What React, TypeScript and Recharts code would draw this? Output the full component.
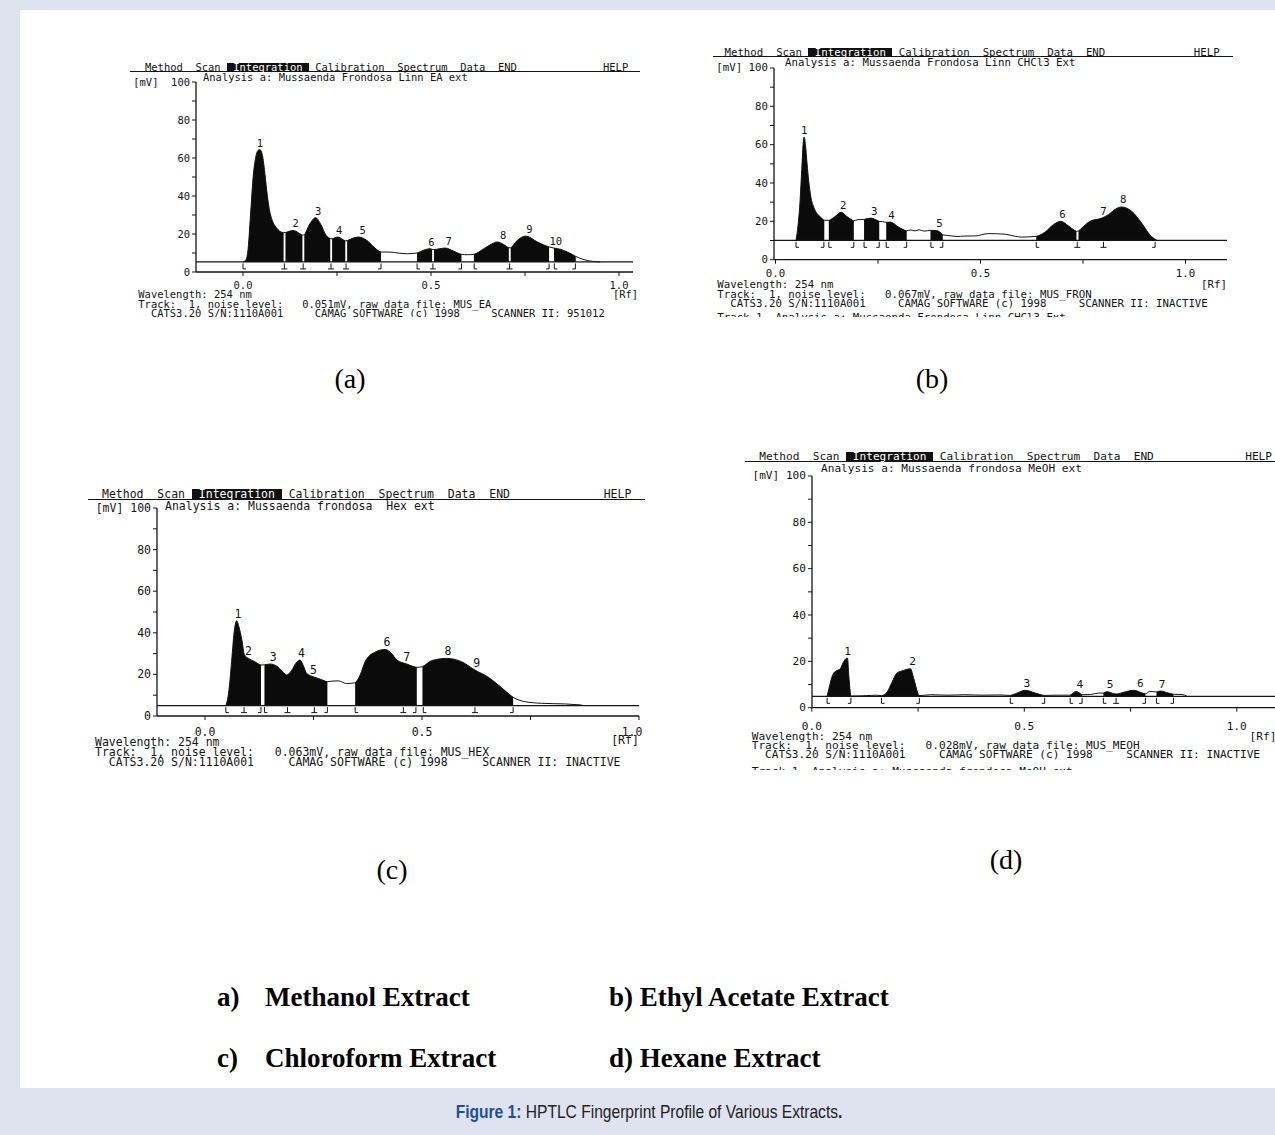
import React from "react"
import {
  Area,
  ComposedChart,
  Line,
  ReferenceLine,
  Scatter,
  XAxis,
  YAxis,
} from "recharts"

const MONO = '"DejaVu Sans Mono", "Liberation Mono", monospace'
const INK = "#141414"

const rfTicks = [0, 0.25, 0.5, 0.75, 1]
const mvTicks = [0, 10, 20, 30, 40, 50, 60, 70, 80, 90, 100]

// (a) EA extract: [Rf, mV]
const traceA = [
  [0.0, 5.3], [0.007, 6.2], [0.013, 11], [0.02, 30], [0.027, 50], [0.034, 60.5],
  [0.04, 64], [0.045, 64.4], [0.051, 62], [0.057, 54], [0.063, 43], [0.07, 33],
  [0.078, 27], [0.088, 23.5], [0.098, 21.4], [0.108, 20.7], [0.113, 20.8],
  [0.133, 21.9], [0.148, 20.6], [0.158, 19.4], [0.163, 19.6], [0.178, 25.4],
  [0.193, 28.6], [0.206, 25.4], [0.221, 19.3], [0.232, 17.6], [0.237, 17.5],
  [0.252, 18.4], [0.272, 16.4], [0.277, 16.5], [0.292, 17.8], [0.307, 18.4],
  [0.329, 16.7], [0.351, 12.6], [0.367, 10.5], [0.391, 10.5], [0.415, 9.9],
  [0.436, 9.6], [0.463, 10.0], [0.48, 11.4], [0.498, 12.3], [0.503, 11.9],
  [0.508, 11.8], [0.538, 12.6], [0.561, 10.9], [0.581, 9.3], [0.598, 9.1],
  [0.614, 9.3], [0.641, 12.3], [0.662, 14.8], [0.676, 15.8], [0.694, 14.4],
  [0.707, 12.8], [0.712, 12.7], [0.73, 16.7], [0.752, 18.9], [0.783, 15.8],
  [0.814, 13.2], [0.827, 12.6], [0.845, 11.9], [0.863, 10.5], [0.885, 8.2],
  [0.907, 6.5], [0.93, 5.6], [0.95, 5.3],
]
const regionsA = [
  [0.0, 0.108], [0.113, 0.158], [0.163, 0.232], [0.237, 0.272], [0.277, 0.367],
  [0.463, 0.503], [0.508, 0.581], [0.614, 0.707], [0.712, 0.814], [0.827, 0.885],
]
const peaksA = [
  [1, 0.045, 64.4], [2, 0.14, 21.9], [3, 0.2, 28.6], [4, 0.256, 18.4], [5, 0.318, 18.2],
  [6, 0.501, 12.3], [7, 0.547, 12.4], [8, 0.692, 15.8], [9, 0.762, 18.9], [10, 0.832, 12.4],
]
const marksA = [
  [0.0, "["], [0.11, "I"], [0.16, "I"], [0.234, "I"], [0.274, "I"], [0.367, "]"],
  [0.463, "["], [0.505, "I"], [0.581, "]"], [0.615, "["], [0.709, "I"], [0.814, "]"],
  [0.828, "["], [0.884, "]"],
]

// (b) CHCl3 extract
const traceB = [
  [0.05, 10.1], [0.055, 18], [0.06, 31], [0.064, 47], [0.068, 62], [0.07, 64],
  [0.073, 60], [0.077, 50], [0.081, 41], [0.086, 33], [0.094, 27], [0.108, 22.6],
  [0.119, 20.6], [0.13, 20.5], [0.145, 22.5], [0.16, 24.7], [0.175, 22.4],
  [0.191, 20.3], [0.201, 20.9], [0.216, 21.0], [0.232, 21.7], [0.253, 20.0],
  [0.262, 19.8], [0.27, 19.5], [0.28, 19.6], [0.3, 17.0], [0.32, 15.1],
  [0.33, 15.5], [0.34, 15.0], [0.35, 15.6], [0.362, 14.9], [0.378, 15.3],
  [0.395, 15.1], [0.408, 13.0], [0.426, 12.5], [0.445, 12.1], [0.458, 12.3],
  [0.487, 12.4], [0.519, 13.6], [0.56, 13.3], [0.585, 12.2], [0.6, 11.8],
  [0.636, 12.2], [0.657, 14.3], [0.678, 18.3], [0.696, 20.0], [0.714, 17.7],
  [0.734, 14.8], [0.739, 15.0], [0.747, 16.5], [0.767, 20.0], [0.796, 21.7],
  [0.812, 23.5], [0.83, 26.5], [0.844, 27.5], [0.869, 25.2], [0.893, 19.1],
  [0.913, 13.0], [0.93, 10.1],
]
const regionsB = [
  [0.05, 0.119], [0.13, 0.191], [0.216, 0.253], [0.27, 0.32], [0.378, 0.408],
  [0.636, 0.734], [0.739, 0.93],
]
const peaksB = [
  [1, 0.07, 64], [2, 0.165, 24.7], [3, 0.241, 21.7], [4, 0.283, 19.6],
  [5, 0.4, 15.1], [6, 0.7, 20.0], [7, 0.8, 21.7], [8, 0.848, 27.5],
]
const marksB = [
  [0.05, "["], [0.118, "]"], [0.13, "["], [0.191, "]"], [0.216, "["], [0.253, "]"],
  [0.27, "["], [0.32, "]"], [0.379, "["], [0.408, "]"], [0.636, "["], [0.736, "I"],
  [0.8, "I"], [0.926, "]"],
]

// (c) Hex extract
const traceC = [
  [0.048, 5.0], [0.052, 8], [0.056, 14], [0.062, 28], [0.067, 40], [0.073, 45.8],
  [0.078, 43], [0.085, 36.5], [0.091, 29.3], [0.1, 27.7], [0.115, 26.1],
  [0.129, 24.5], [0.137, 24.6], [0.15, 25.0], [0.165, 24.0], [0.178, 21.5],
  [0.188, 19.7], [0.2, 22.0], [0.21, 25.5], [0.219, 26.9], [0.227, 24.0],
  [0.234, 20.5], [0.253, 18.6], [0.268, 17.5], [0.282, 16.5], [0.295, 16.8],
  [0.307, 16.9], [0.326, 15.6], [0.346, 16.0], [0.358, 20.0], [0.369, 26.1],
  [0.39, 30.5], [0.415, 32.0], [0.43, 30.0], [0.442, 26.9], [0.465, 25.0],
  [0.488, 23.4], [0.501, 23.7], [0.522, 26.6], [0.557, 27.7], [0.591, 26.1],
  [0.622, 22.1], [0.653, 18.6], [0.676, 14.9], [0.695, 11.5], [0.71, 9.0],
  [0.737, 6.9], [0.776, 6.1], [0.829, 5.8], [0.868, 5.3],
]
const regionsC = [[0.048, 0.129], [0.137, 0.282], [0.346, 0.488], [0.501, 0.71]]
const peaksC = [
  [1, 0.076, 45.8], [2, 0.1, 27.7], [3, 0.157, 24.8], [4, 0.222, 26.9], [5, 0.25, 18.6],
  [6, 0.419, 32.0], [7, 0.465, 25.0], [8, 0.56, 27.7], [9, 0.626, 22.1],
]
const marksC = [
  [0.048, "["], [0.09, "I"], [0.129, "]"], [0.137, "["], [0.19, "I"], [0.252, "I"],
  [0.282, "]"], [0.346, "["], [0.457, "I"], [0.486, "]"], [0.503, "["], [0.622, "I"],
  [0.71, "]"],
]

// (d) MeOH extract
const traceD = [
  [0.036, 4.9], [0.04, 8], [0.044, 11.1], [0.05, 14.5], [0.057, 15.8], [0.067, 16.8],
  [0.074, 19.5], [0.08, 21.1], [0.084, 21.4], [0.087, 14.0], [0.092, 5.0],
  [0.14, 5.3], [0.152, 5.4], [0.164, 5.2], [0.177, 6.7], [0.189, 11.1], [0.2, 14.9],
  [0.216, 16.1], [0.232, 16.8], [0.24, 12.5], [0.252, 5.2], [0.28, 5.6], [0.32, 5.4],
  [0.36, 5.6], [0.4, 5.4], [0.44, 5.5], [0.467, 5.3], [0.483, 6.3], [0.502, 7.5],
  [0.526, 6.3], [0.548, 5.3], [0.58, 5.4], [0.608, 5.4], [0.622, 7.0], [0.636, 5.6],
  [0.656, 5.7], [0.675, 6.3], [0.686, 6.3], [0.694, 6.9], [0.716, 5.9], [0.735, 6.7],
  [0.757, 7.5], [0.778, 6.3], [0.785, 6.0], [0.795, 7.0], [0.811, 6.8], [0.82, 7.2],
  [0.839, 6.3], [0.851, 5.8], [0.871, 5.7], [0.882, 5.0],
]
const regionsD = [
  [0.036, 0.092], [0.164, 0.252], [0.467, 0.548], [0.608, 0.636], [0.686, 0.785],
  [0.811, 0.851],
]
const peaksD = [
  [1, 0.084, 21.4], [2, 0.237, 16.8], [3, 0.506, 7.5], [4, 0.631, 7.0],
  [5, 0.702, 6.9], [6, 0.773, 7.5], [7, 0.824, 7.2],
]
const marksD = [
  [0.036, "["], [0.092, "]"], [0.164, "["], [0.253, "]"], [0.467, "["], [0.548, "]"],
  [0.608, "["], [0.636, "]"], [0.686, "["], [0.716, "I"], [0.785, "]"], [0.811, "["],
  [0.851, "]"],
]

const CATS = "  CATS3.20 S/N:1110A001     CAMAG SOFTWARE (c) 1998     SCANNER II: "

const panels = [
  {
    id: "a", trace: traceA, regions: regionsA, peaks: peaksA, marks: marksA, base: 5.3,
    axisX: 196, rf0: 243, unit: 376, y0: 272, y100: 82, xEnd: 633, cw: 6.31, tickOff: 13, endShift: 0,
    rule: [130, 640, 71], menuX: 145, menuY: 67.7, helpX: 603,
    anaX: 203, anaY: 77.7, ana: "Analysis a: Mussaenda Frondosa Linn EA ext",
    mvLabel: "[mV]  100",
    foot: [
      [138.3, 294, "Wavelength: 254 nm"],
      [138.3, 304, "Track:  1, noise level:   0.051mV, raw data file: MUS_EA"],
      [138.3, 313.7, CATS + "951012"],
    ],
    rfLab: [625.5, 294.3], clip: 317,
  },
  {
    id: "b", trace: traceB, regions: regionsB, peaks: peaksB, marks: marksB, base: 10.1,
    axisX: 774, rf0: 775.5, unit: 410, y0: 260, y100: 68.3, xEnd: 1227, cw: 6.46, tickOff: 14, endShift: 0,
    rule: [713, 1233, 56.2], menuX: 724.5, menuY: 52.7, helpX: 1193.8,
    anaX: 785, anaY: 62.7, ana: "Analysis a: Mussaenda Frondosa Linn CHCl3 Ext",
    mvLabel: "[mV] 100",
    foot: [
      [717.3, 285, "Wavelength: 254 nm"],
      [717.3, 294.3, "Track:  1, noise level:   0.067mV, raw data file: MUS_FRON"],
      [717.3, 303.3, CATS + "INACTIVE"],
      [717.3, 318, "Track 1, Analysis a: Mussaenda Frondosa Linn CHCl3 Ext"],
    ],
    rfLab: [1214, 284.3], clip: 317,
  },
  {
    id: "c", trace: traceC, regions: regionsC, peaks: peaksC, marks: marksC, base: 5.0,
    axisX: 157, rf0: 205, unit: 434, y0: 716, y100: 508, xEnd: 639, cw: 6.92, tickOff: 16, endShift: -7,
    rule: [88, 645, 498.6], menuX: 102, menuY: 494.3, helpX: 603.7,
    anaX: 165, anaY: 505.7, ana: "Analysis a: Mussaenda frondosa  Hex ext",
    mvLabel: "[mV] 100",
    foot: [
      [95, 741.7, "Wavelength: 254 nm"],
      [95, 752, "Track:  1, noise level:   0.063mV, raw data file: MUS_HEX"],
      [95, 762, CATS + "INACTIVE"],
    ],
    rfLab: [625, 740.5], clip: 775,
  },
  {
    id: "d", trace: traceD, regions: regionsD, peaks: peaksD, marks: marksD, base: 4.9,
    axisX: 811.7, rf0: 811.5, unit: 425, y0: 707.3, y100: 475.6, xEnd: 1275, cw: 6.7, tickOff: 18.7, endShift: 0,
    rule: [745, 1275, 461.2], menuX: 759.2, menuY: 456.8, helpX: 1245.2,
    anaX: 821, anaY: 469.3, ana: "Analysis a: Mussaenda frondosa MeOH ext",
    mvLabel: "[mV] 100",
    foot: [
      [751.7, 737.3, "Wavelength: 254 nm"],
      [751.7, 746, "Track:  1, noise level:   0.028mV, raw data file: MUS_MEOH"],
      [751.7, 755, CATS + "INACTIVE"],
      [751.7, 772, "Track 1, Analysis a: Mussaenda frondosa MeOH ext"],
    ],
    rfLab: [1263, 736.7], clip: 770,
  },
]

const ML = 70
const MT = 12
const MR = 20
const XH = 30

function Mono({ x, y, fs, children, style = {} }: any) {
  return (
    <div
      style={{
        position: "absolute",
        left: x,
        top: y - fs * 0.62,
        fontFamily: MONO,
        fontSize: fs,
        lineHeight: `${fs * 1.24}px`,
        whiteSpace: "pre",
        color: INK,
        ...style,
      }}
    >
      {children}
    </div>
  )
}

function markShape(s: any) {
  const { cx, cy } = s
  const k = s.payload.k
  let d = `M${cx},${cy + 1.5}V${cy + 7}`
  if (k === "[") d += `H${cx + 3}`
  else if (k === "]") d += `H${cx - 3}`
  else d += `M${cx - 3},${cy + 7}H${cx + 3}`
  return <path d={d} stroke={INK} strokeWidth={1} fill="none" />
}

function Panel({ p }: any) {
  const fs = p.cw / 0.602
  const rows = p.trace.map(([rf, mv]: number[]) => {
    const i = p.regions.findIndex(([s, e]: number[]) => rf >= s - 1e-6 && rf <= e + 1e-6)
    return { rf, mv, f0: i >= 0 && i % 2 === 0 ? mv : null, f1: i % 2 === 1 ? mv : null }
  })
  const peakRows = p.peaks.map(([n, rf, mv]: any[]) => ({ n, rf, mv }))
  const markRows = p.marks.map(([rf, k]: any[]) => ({ rf, k, mv: p.base }))
  const xMin = (p.axisX - p.rf0) / p.unit
  const xMax = (p.xEnd - p.rf0) / p.unit
  const W = p.xEnd - p.axisX + ML + MR
  const H = p.y0 - p.y100 + MT + XH

  const labelShape = (s: any) => (
    <text
      x={s.cx}
      y={s.cy - 7}
      textAnchor="middle"
      dominantBaseline="central"
      fontFamily={MONO}
      fontSize={fs}
      fill={INK}
    >
      {s.payload.n}
    </text>
  )

  return (
    <>
      <div style={{ position: "absolute", left: p.axisX - ML, top: p.y100 - MT }}>
        <ComposedChart width={W} height={H} data={rows} margin={{ top: MT, right: MR, bottom: 0, left: 0 }}>
          <XAxis
            type="number"
            dataKey="rf"
            domain={[xMin, xMax]}
            ticks={rfTicks}
            interval={0}
            height={XH}
            tickSize={4}
            tickMargin={2}
            allowDataOverflow
            axisLine={{ stroke: INK, strokeWidth: 1.3 }}
            tickLine={{ stroke: INK }}
            tick={(t: any) => {
              const v = t.payload.value
              const s = v % 0.5 === 0 ? v.toFixed(1) : ""
              const dx = v === 1 ? p.endShift : 0
              return (
                <text x={t.x + dx} y={t.y - 6 + p.tickOff} textAnchor="middle" dominantBaseline="central"
                  fontFamily={MONO} fontSize={fs} fill={INK}>{s}</text>
              )
            }}
          />
          <YAxis
            type="number"
            domain={[0, 100]}
            ticks={mvTicks}
            interval={0}
            width={ML}
            tickSize={4}
            tickMargin={2}
            allowDataOverflow
            axisLine={{ stroke: INK, strokeWidth: 1.3 }}
            tickLine={{ stroke: INK }}
            tick={(t: any) => {
              const v = t.payload.value
              const s = v === 100 ? p.mvLabel : v % 20 === 0 ? String(v) : ""
              return (
                <text x={t.x} y={t.y} textAnchor="end" dominantBaseline="central"
                  fontFamily={MONO} fontSize={fs} fill={INK} style={{ whiteSpace: "pre" }}>{s}</text>
              )
            }}
          />
          <ReferenceLine y={p.base} stroke={INK} strokeWidth={1.2} />
          <Area dataKey="f0" type="monotone" baseValue={p.base} stroke="none" fill="#0b0b0b"
            fillOpacity={1} isAnimationActive={false} connectNulls={false} />
          <Area dataKey="f1" type="monotone" baseValue={p.base} stroke="none" fill="#0b0b0b"
            fillOpacity={1} isAnimationActive={false} connectNulls={false} />
          <Line dataKey="mv" type="monotone" stroke={INK} strokeWidth={1} dot={false}
            isAnimationActive={false} />
          <Scatter data={markRows} dataKey="mv" shape={markShape} isAnimationActive={false} />
          <Scatter data={peakRows} dataKey="mv" shape={labelShape} isAnimationActive={false} />
        </ComposedChart>
      </div>
      <div style={{ position: "absolute", left: 0, top: 0, width: 1275, height: p.clip, overflow: "hidden", pointerEvents: "none" }}>
        <div style={{ position: "absolute", left: p.rule[0], top: p.rule[2], width: p.rule[1] - p.rule[0], height: 1.3, background: INK }} />
        <div style={{ position: "absolute", left: p.menuX + 13 * p.cw, top: p.menuY - 0.42 * fs, width: 13 * p.cw, height: 0.84 * fs, background: "#111" }} />
        <Mono x={p.menuX} y={p.menuY} fs={fs}>
          {"Method  Scan  "}
          <span style={{ color: "#fff" }}>Integration</span>
          {"  Calibration  Spectrum  Data  END"}
        </Mono>
        <Mono x={p.helpX} y={p.menuY} fs={fs}>HELP</Mono>
        <Mono x={p.anaX} y={p.anaY} fs={fs}>{p.ana}</Mono>
        {p.foot.map(([x, y, s]: any[], i: number) => (
          <Mono key={i} x={x} y={y} fs={fs}>{s}</Mono>
        ))}
        <Mono x={p.rfLab[0] - 2 * p.cw} y={p.rfLab[1]} fs={fs}>[Rf]</Mono>
      </div>
    </>
  )
}

const serif = '"Liberation Serif", "Times New Roman", serif'

function Caption({ x, y, text, size, bold = false, anchor = "left" }: any) {
  return (
    <div
      style={{
        position: "absolute",
        left: x,
        top: y - size * 0.6,
        fontFamily: serif,
        fontSize: size,
        fontWeight: bold ? 700 : 400,
        lineHeight: `${size * 1.2}px`,
        whiteSpace: "pre",
        color: "#000",
        transform: anchor === "middle" ? "translateX(-50%)" : undefined,
      }}
    >
      {text}
    </div>
  )
}

export default function App() {
  return (
    <div style={{ position: "absolute", left: 0, top: 0, width: 1275, height: 1135, background: "#dfe3f0", overflow: "hidden" }}>
      <div style={{ position: "absolute", left: 20, top: 10, width: 1255, height: 1078, background: "#fff" }} />
      {panels.map((p) => (
        <Panel key={p.id} p={p} />
      ))}
      <Caption x={350} y={379} text="(a)" size={28} anchor="middle" />
      <Caption x={932} y={379} text="(b)" size={28} anchor="middle" />
      <Caption x={392} y={870} text="(c)" size={28} anchor="middle" />
      <Caption x={1006} y={860} text="(d)" size={28} anchor="middle" />
      <Caption x={217} y={997} text="a)" size={27} bold />
      <Caption x={265} y={997} text="Methanol Extract" size={27} bold />
      <Caption x={609} y={997} text="b) Ethyl Acetate Extract" size={27} bold />
      <Caption x={217} y={1058} text="c)" size={27} bold />
      <Caption x={265} y={1058} text="Chloroform Extract" size={27} bold />
      <Caption x={609} y={1058} text="d) Hexane Extract" size={27} bold />
      <div
        style={{
          position: "absolute",
          left: 648.5,
          top: 1100,
          transform: "translateX(-50%) scaleX(0.82)",
          fontFamily: '"Liberation Sans", Arial, sans-serif',
          fontSize: 19,
          lineHeight: "24px",
          whiteSpace: "pre",
          color: "#222",
        }}
      >
        <span style={{ color: "#1b4f9c", fontWeight: 700 }}>Figure 1:</span> HPTLC Fingerprint Profile of Various Extracts
        <span style={{ fontWeight: 700 }}>.</span>
      </div>
    </div>
  )
}
